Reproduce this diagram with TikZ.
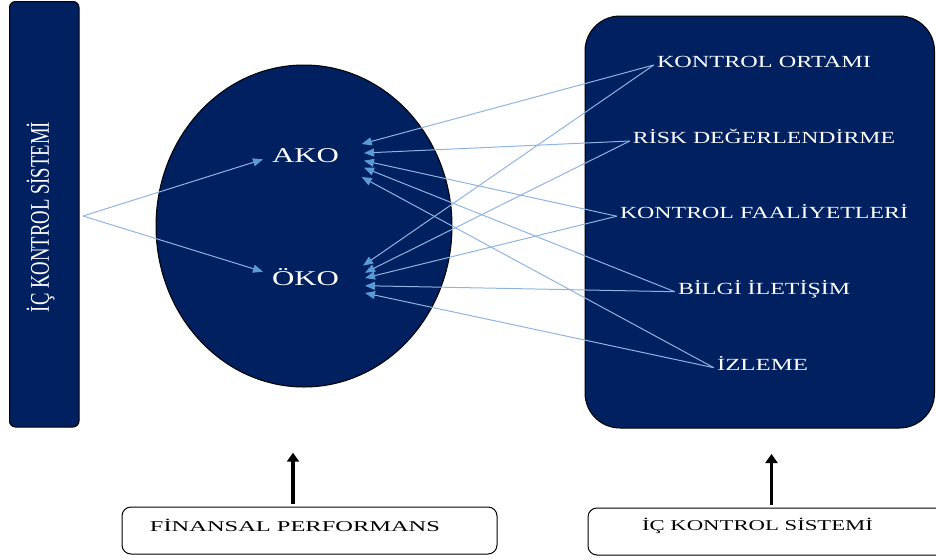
\documentclass[tikz,border=0pt]{standalone}
\usepackage{fontspec}
\setmainfont{Liberation Serif}
\usepackage{graphicx}
\usetikzlibrary{arrows.meta,calc,shapes.geometric}
\definecolor{navy}{RGB}{0,32,96}
\definecolor{linkblue}{RGB}{143,180,226}
\definecolor{tipblue}{RGB}{91,155,213}
\newcommand\fitw[2]{\resizebox{#1}{\height}{#2}}
\begin{document}
\begin{tikzpicture}[x=1pt,y=-1pt,
  panel/.style={draw=black, line width=1pt, fill=navy, inner sep=0pt},
  lbl/.style={text=white, font=\fontsize{17}{17}\selectfont, inner sep=3pt, anchor=base},
  big/.style={text=white, font=\fontsize{21}{21}\selectfont, inner sep=3pt, anchor=base},
  foot/.style={text=black, font=\fontsize{15}{15}\selectfont, inner sep=2pt, anchor=base},
  footbox/.style={draw=black, line width=1pt, rounded corners=9pt},
  link/.style={draw=linkblue, line width=1pt, -{Triangle[length=10pt,width=8pt,color=tipblue]}},
  upar/.style={draw=black, line width=3.5pt, shorten <=3pt, -{Triangle[length=9pt,width=12pt]}}
]
\useasboundingbox (0,0) rectangle (936,557);

% left bar
\node[panel, rounded corners=6pt, minimum width=69.5pt, minimum height=425.5pt] (bar) at (44.25,214.25) {};
\node[rotate=90, text=white, font=\fontsize{27}{27}\selectfont, inner sep=0pt] (bartext) at (40.5,217) {\fitw{190pt}{İÇ KONTROL SİSTEMİ}};

% ellipse
\node[panel, ellipse, minimum width=296pt, minimum height=322pt] (ell) at (304,226) {};
\node[big] (ako) at (305.5,162) {\fitw{67pt}{AKO}};
\node[big] (oko) at (305.5,285.7) {\fitw{67pt}{ÖKO}};

% right box
\node[panel, rounded corners=35pt, minimum width=349.5pt, minimum height=412pt] (rbox) at (759.75,222) {};
\node[lbl] (ko) at (764,67.3) {\fitw{214pt}{KONTROL ORTAMI}};
\node[lbl] (rd) at (764,143.3) {\fitw{262pt}{RİSK DEĞERLENDİRME}};
\node[lbl] (kf) at (764,218.5) {\fitw{288pt}{KONTROL FAALİYETLERİ}};
\node[lbl] (bi) at (764,294) {\fitw{172pt}{BİLGİ İLETİŞİM}};
\node[lbl] (iz) at (762.5,370) {\fitw{91pt}{İZLEME}};

% arrow tip coordinates
\coordinate (a1) at (361.7,144);
\coordinate (a2) at (364,153);
\coordinate (a3) at (364,160.7);
\coordinate (a4) at (364,167.7);
\coordinate (a5) at (361.7,177);
\coordinate (o1) at (363,265.7);
\coordinate (o2) at (365,272.7);
\coordinate (o3) at (365,278);
\coordinate (o4) at (365,285.7);
\coordinate (o5) at (365,293);

\foreach \s/\i in {ko/1, rd/2, kf/3, bi/4, iz/5} {
  \draw[link] (\s.mid west) -- (a\i);
  \draw[link] (\s.mid west) -- (o\i);
}

% left connectors
\coordinate (apex) at (83,216);
\coordinate (al) at (263,159.3);
\coordinate (ol) at (263,271.7);
\draw[link] (apex) -- (al);
\draw[link] (apex) -- (ol);

% bottom boxes
\node[footbox, minimum width=375pt, minimum height=47pt, inner sep=0pt] (fpbox) at (309.5,530.5) {};
\node[foot] (fp) at (295,531.7) {\fitw{290pt}{FİNANSAL PERFORMANS}};
\begin{scope}
  \clip (0,0) rectangle (936,557);
  \node[footbox, minimum width=370pt, minimum height=47pt, inner sep=0pt] (icbox) at (773,531.5) {};
\end{scope}
\node[foot] (ic) at (757.5,530) {\fitw{231pt}{İÇ KONTROL SİSTEMİ}};

% up arrows
\coordinate (up1) at (293,452.7);
\coordinate (up2) at (771.5,454);
\draw[upar] (up1 |- fpbox.north) -- (up1);
\draw[upar] (up2 |- icbox.north) -- (up2);
\end{tikzpicture}
\end{document}
